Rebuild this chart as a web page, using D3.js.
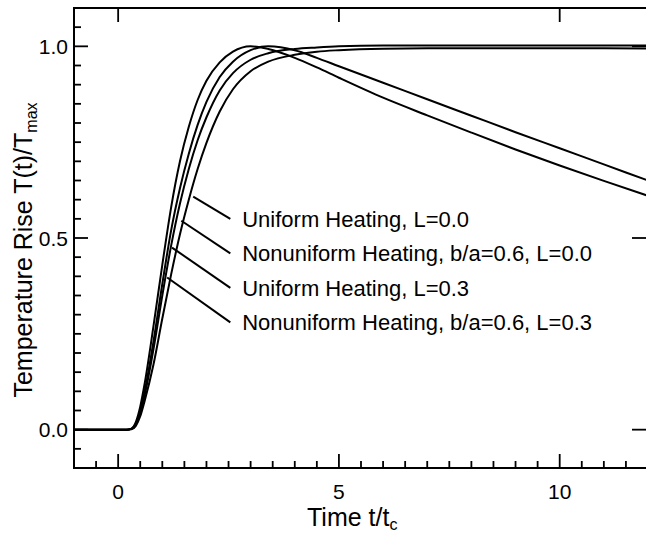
<!DOCTYPE html>
<html>
<head>
<meta charset="utf-8">
<script src="https://cdn.jsdelivr.net/npm/d3@7"></script>
<style>
  body { margin: 0; background: #fff; }
  svg text { font-family: "Liberation Sans", Arial, Helvetica, sans-serif; fill: #000; }
</style>
</head>
<body>
<div id="chart"></div>
<script>
// time axis (t/tc), shared by all curves
const times = [-1, 0, 0.2, 0.3, 0.4, 0.5, 0.6, 0.8, 1.0, 1.2, 1.4, 1.6, 1.8, 2.0, 2.3, 2.6, 3.0, 3.4, 4.0, 4.5, 5, 6, 7, 8, 9, 10, 11, 12];

// normalized temperature rise T(t)/Tmax
const uniformL00 = [0, 0, 0, 0.001, 0.01, 0.035, 0.075, 0.17, 0.29, 0.405, 0.51, 0.6, 0.68, 0.748, 0.83, 0.888, 0.935, 0.96, 0.978, 0.986, 0.99, 0.994, 0.995, 0.995, 0.995, 0.995, 0.995, 0.994];
const nonuniformL00 = [0, 0, 0, 0.002, 0.013, 0.045, 0.09, 0.21, 0.35, 0.48, 0.59, 0.68, 0.755, 0.815, 0.885, 0.93, 0.965, 0.982, 0.993, 0.997, 1.0, 1.002, 1.002, 1.002, 1.002, 1.002, 1.002, 1.002];
const uniformL03 = [0, 0, 0, 0.002, 0.015, 0.05, 0.10, 0.23, 0.38, 0.52, 0.63, 0.72, 0.795, 0.855, 0.92, 0.96, 0.99, 1.0, 0.99, 0.97, 0.948, 0.905, 0.862, 0.819, 0.776, 0.734, 0.692, 0.65];
const nonuniformL03 = [0, 0, 0, 0.003, 0.02, 0.06, 0.12, 0.27, 0.43, 0.58, 0.70, 0.79, 0.86, 0.91, 0.958, 0.986, 1.0, 0.993, 0.97, 0.945, 0.918, 0.866, 0.82, 0.775, 0.731, 0.689, 0.649, 0.61];

const series = [uniformL00, nonuniformL00, uniformL03, nonuniformL03];

// annotation labels and the curve points their leaders start from
const labels = [
  "Uniform Heating, L=0.0",
  "Nonuniform Heating, b/a=0.6, L=0.0",
  "Uniform Heating, L=0.3",
  "Nonuniform Heating, b/a=0.6, L=0.3"
];
const leaderT = [1.70, 1.43, 1.22, 1.11];
const leaderV = [0.608, 0.545, 0.475, 0.397];
const labelV = [0.55, 0.46, 0.37, 0.28];

const xMajor = [0, 5, 10];
const yMajor = [0, 0.5, 1.0];

const width = 646, height = 536;
const margin = {top: 8, right: -2, bottom: 68, left: 74};

const svg = d3.select("#chart").append("svg")
    .attr("width", width)
    .attr("height", height);

const x = d3.scaleLinear().domain([-1, 12]).range([margin.left, width - margin.right]);
const y = d3.scaleLinear().domain([-0.1, 1.1]).range([height - margin.bottom, margin.top]);

const x0 = x.range()[0], x1 = x.range()[1];
const y0 = y.range()[0], y1 = y.range()[1];

// frame
svg.append("rect")
    .attr("x", x0).attr("y", y1)
    .attr("width", x1 - x0).attr("height", y0 - y1)
    .attr("fill", "none").attr("stroke", "#000").attr("stroke-width", 2);

const tickStroke = {stroke: "#000", width: 1.8};

// bottom ticks: major every 5, minor every 0.5
const xMinor = d3.range(-1, 12.01, 0.5);
svg.append("g").selectAll("line").data(xMinor).join("line")
    .attr("x1", d => x(d)).attr("x2", d => x(d))
    .attr("y1", y0).attr("y2", d => y0 - (xMajor.includes(d) ? 14 : 7))
    .attr("stroke", tickStroke.stroke).attr("stroke-width", tickStroke.width);

// top ticks: major only
svg.append("g").selectAll("line").data(xMajor).join("line")
    .attr("x1", d => x(d)).attr("x2", d => x(d))
    .attr("y1", y1).attr("y2", y1 + 14)
    .attr("stroke", tickStroke.stroke).attr("stroke-width", tickStroke.width);

// left ticks: major every 0.5, minor every 0.05
const yMinor = d3.range(-0.1, 1.1001, 0.05).map(d => Math.round(d * 100) / 100);
svg.append("g").selectAll("line").data(yMinor).join("line")
    .attr("y1", d => y(d)).attr("y2", d => y(d))
    .attr("x1", x0).attr("x2", d => x0 + (yMajor.includes(d) ? 14 : 7))
    .attr("stroke", tickStroke.stroke).attr("stroke-width", tickStroke.width);

// right ticks: major only
svg.append("g").selectAll("line").data(yMajor).join("line")
    .attr("y1", d => y(d)).attr("y2", d => y(d))
    .attr("x1", x1).attr("x2", x1 - 16)
    .attr("stroke", tickStroke.stroke).attr("stroke-width", tickStroke.width);

// tick labels
svg.append("g").selectAll("text").data(xMajor).join("text")
    .attr("x", d => x(d)).attr("y", y0 + 31)
    .attr("text-anchor", "middle")
    .style("font-size", "21px")
    .text(d => d);

svg.append("g").selectAll("text").data(yMajor).join("text")
    .attr("x", x0 - 6).attr("y", d => y(d))
    .attr("dy", "0.36em")
    .attr("text-anchor", "end")
    .style("font-size", "21px")
    .text(d => d3.format(".1f")(d));

// axis titles
const xt = svg.append("text")
    .attr("x", 307).attr("y", 526)
    .style("font-size", "25px");
xt.append("tspan").text("Time t/t");
xt.append("tspan").attr("dy", 4).style("font-size", "16px").text("c");

const yt = svg.append("text")
    .attr("transform", "translate(32," + ((y1 + y0) / 2 + 12) + ") rotate(-90)")
    .attr("text-anchor", "middle")
    .style("font-size", "25px");
yt.append("tspan").text("Temperature Rise T(t)/T");
yt.append("tspan").attr("dy", 5).style("font-size", "16px").text("max");

// curves
const line = d3.line()
    .x((d, i) => x(times[i]))
    .y(d => y(d))
    .curve(d3.curveMonotoneX);

svg.append("g").selectAll("path").data(series).join("path")
    .attr("d", line)
    .attr("fill", "none")
    .attr("stroke", "#000")
    .attr("stroke-width", 2);

// annotations with leader lines
const leaderEndT = 2.54, labelT = 2.81;
svg.append("g").selectAll("line").data(labels).join("line")
    .attr("x1", (d, i) => x(leaderT[i])).attr("y1", (d, i) => y(leaderV[i]))
    .attr("x2", x(leaderEndT)).attr("y2", (d, i) => y(labelV[i]))
    .attr("stroke", "#000").attr("stroke-width", 2);

svg.append("g").selectAll("text").data(labels).join("text")
    .attr("x", x(labelT)).attr("y", (d, i) => y(labelV[i]))
    .attr("dy", "0.36em")
    .style("font-size", "22px")
    .text(d => d);
</script>
</body>
</html>
